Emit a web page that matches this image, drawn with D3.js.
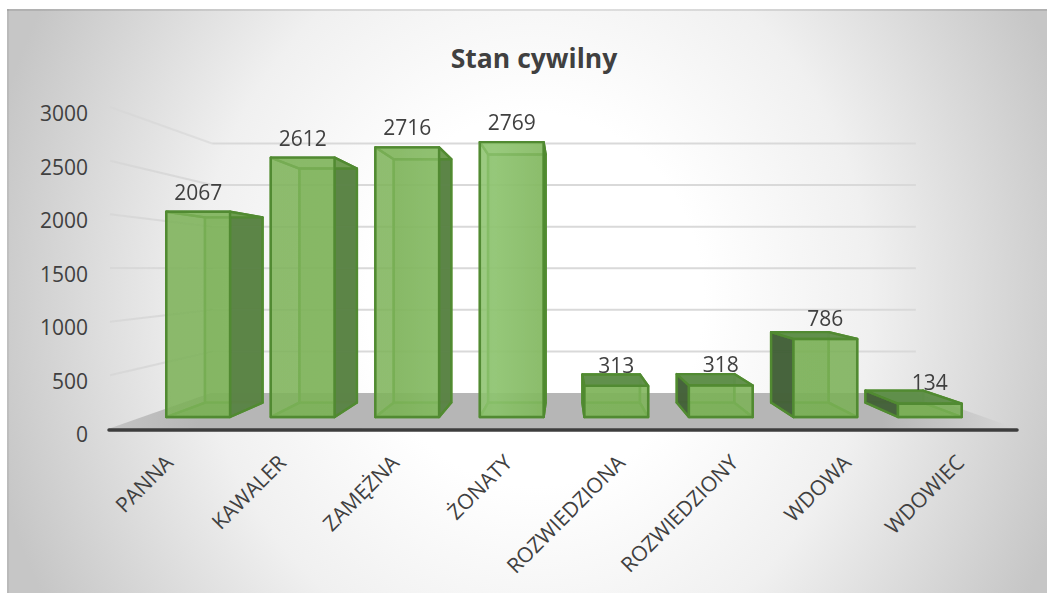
<!DOCTYPE html>
<html><head><meta charset="utf-8">
<script src="https://cdn.jsdelivr.net/npm/d3@7/dist/d3.min.js"></script>
<style>html,body{margin:0;padding:0;background:#fff}svg{display:block}text{font-family:"Open Sans",sans-serif}</style>
</head><body><div id="c"></div>
<script>
const categories=["PANNA","KAWALER","ZAMĘŻNA","ŻONATY","ROZWIEDZIONA","ROZWIEDZIONY","WDOWA","WDOWIEC"];
const values=[2067,2612,2716,2769,313,318,786,134];
const yTicks=[0,500,1000,1500,2000,2500,3000];
const title="Stan cywilny";

const W=1049,H=593;
const svg=d3.select("#c").append("svg").attr("width",W).attr("height",H);
const defs=svg.append("defs");
const lin=(id,x1,y1,x2,y2,stops)=>{const g=defs.append("linearGradient").attr("id",id).attr("gradientUnits","userSpaceOnUse")
  .attr("x1",x1).attr("y1",y1).attr("x2",x2).attr("y2",y2);
  stops.forEach(s=>g.append("stop").attr("offset",s[0]).attr("stop-color",s[1]).attr("stop-opacity",s[2]===undefined?1:s[2]));};
const bg=defs.append("radialGradient").attr("id","bg").attr("gradientUnits","userSpaceOnUse")
  .attr("cx",0).attr("cy",0).attr("r",1).attr("gradientTransform","translate(535 300) scale(560 620)");
bg.append("stop").attr("offset",.3).attr("stop-color","#ffffff");
bg.append("stop").attr("offset",.6).attr("stop-color","#f0f0f0");
bg.append("stop").attr("offset",1).attr("stop-color","#c6c6c6");
defs.append("filter").attr("id","soft").attr("x","-5%").attr("y","-5%").attr("width","110%").attr("height","110%")
  .append("feGaussianBlur").attr("stdDeviation",.5);

svg.append("rect").attr("x",7).attr("y",9).attr("width",1040).attr("height",584).attr("fill","url(#bg)");
svg.append("rect").attr("x",7).attr("y",9).attr("width",2).attr("height",584).attr("fill","#000").attr("opacity",.06);
svg.append("rect").attr("x",7).attr("y",9).attr("width",1040).attr("height",2).attr("fill","#000").attr("opacity",.1);

// perspective: world plane (s=1) at front of the floor, vanishing point V
const V=[564,269], sBack=.775, sBarFront=.925, sBarBack=.835;
const x=d3.scaleBand().domain(categories).range([112,1016]).paddingInner(.39).paddingOuter(.195);
const y=d3.scaleLinear().domain([0,3000]).range([429,107]);
const proj=(wx,wy,s)=>[V[0]+(wx-V[0])*s,V[1]+(wy-V[1])*s];
const line=pts=>"M"+pts.map(p=>p.join(",")).join("L")+"Z";

// front-face lightness varies across the plot
lin("front",150,0,970,0,[[0,"#7cb158"],[.3,"#7fb45b"],[.42,"#90c672"],[.5,"#7fb45b"],[1,"#78ae54"]]);
lin("floor",108,0,1018,0,[[0,"#c4c4c4"],[.1,"#b6b6b6"],[.85,"#b6b6b6"],[1,"#d6d6d6"]]);

const chart=svg.append("g").attr("filter","url(#soft)");
const floorL=108,floorR=1018;
chart.append("path").attr("d",line([proj(floorL,429,1),proj(floorR,429,1),proj(floorR,429,sBack),proj(floorL,429,sBack)])).attr("fill","url(#floor)");

// gridlines on side wall + back wall
const grid=chart.append("g").attr("fill","none").attr("stroke","#d9d9d9").attr("stroke-width",2);
yTicks.filter(d=>d>0).forEach(d=>{
  const a=proj(floorL+2,y(d),1),b=proj(floorL+2,y(d),sBack),c=proj(floorR,y(d),sBack);
  grid.append("path").attr("d","M"+a+"L"+b).attr("stroke","#d6d6d6").attr("opacity",d===3000?.6:.85);
  grid.append("path").attr("d","M"+b+"L"+c);
});
// axis line
chart.append("line").attr("x1",floorL+1).attr("x2",floorR-1).attr("y1",430).attr("y2",430).attr("stroke","#3c3c3c").attr("stroke-width",3.5).attr("stroke-linecap","round");

// bars
const stroke="#518a30";
const bars=chart.append("g").selectAll("g").data(categories).join("g");
bars.each(function(c,i){
  const g=d3.select(this), l=x(c), r=l+x.bandwidth(), t=y(values[i]), b=y(0);
  const P=proj;
  const face=(pts,fill,op,st)=>g.append("path").attr("d",line(pts)).attr("fill",fill).attr("fill-opacity",op)
     .attr("stroke",st||stroke).attr("stroke-width",2.4).attr("stroke-linejoin","round");
  const f=sBarFront,k=sBarBack, inner="#5a9a37";
  face([P(l,t,k),P(r,t,k),P(r,b,k),P(l,b,k)],"#7db35a",.6,inner);
  face([P(l,b,f),P(r,b,f),P(r,b,k),P(l,b,k)],"#6fa64c",.75,inner);
  const fl=P(l,b,f)[0],bl=P(l,b,k)[0],fr=P(r,b,f)[0],br=P(r,b,k)[0];
  if(bl<fl) face([P(l,t,f),P(l,t,k),P(l,b,k),P(l,b,f)],"#44613a",.97);
  else face([P(l,t,f),P(l,t,k),P(l,b,k),P(l,b,f)],"#7db35a",.3,inner);
  if(br>fr) face([P(r,t,f),P(r,t,k),P(r,b,k),P(r,b,f)],"#5b8346",.97);
  else face([P(r,t,f),P(r,t,k),P(r,b,k),P(r,b,f)],"#7db35a",.3,inner);
  const topVisible=P(l,t,k)[1]<P(l,t,f)[1];
  face([P(l,t,f),P(r,t,f),P(r,t,k),P(l,t,k)],topVisible?"#5f8e4a":"#7db35a",topVisible?.97:.5);
  face([P(l,t,f),P(r,t,f),P(r,b,f),P(l,b,f)],"url(#front)",.82);
});

// value labels
const labels=svg.append("g").attr("fill","#404040").attr("font-size",21).attr("text-anchor","middle");
categories.forEach((c,i)=>{
  const cx=x(c)+x.bandwidth()/2, p=proj(cx,y(values[i]),sBarFront);
  labels.append("text").attr("x",p[0]).attr("y",p[1]*.994-11).text(values[i]);
});

// y axis labels
const yLab=d3.scaleLinear().domain([0,3000]).range([435,114]);
const ya=svg.append("g").attr("transform","translate(88,0)").call(d3.axisLeft(yLab).tickValues(yTicks).tickFormat(d3.format("d")).tickSize(0).tickPadding(0));
ya.select(".domain").remove();
ya.selectAll("text").attr("font-size",21).attr("fill","#404040").style("font-family","Open Sans");

// x axis labels
const xa=svg.append("g").attr("transform","translate(0,440)").call(d3.axisBottom(x).tickSize(0).tickPadding(0));
xa.select(".domain").remove();
xa.selectAll("text").attr("font-size",21).attr("fill","#404040").style("font-family","Open Sans")
  .attr("text-anchor","end").attr("dy",0).attr("dx",0).attr("y",0).attr("x",0)
  .attr("transform","translate(6,24) rotate(-45)");

svg.append("text").attr("x",534).attr("y",68).attr("text-anchor","middle").attr("font-size",26.5).attr("font-weight",700).attr("fill","#404040").text(title);
</script></body></html>
